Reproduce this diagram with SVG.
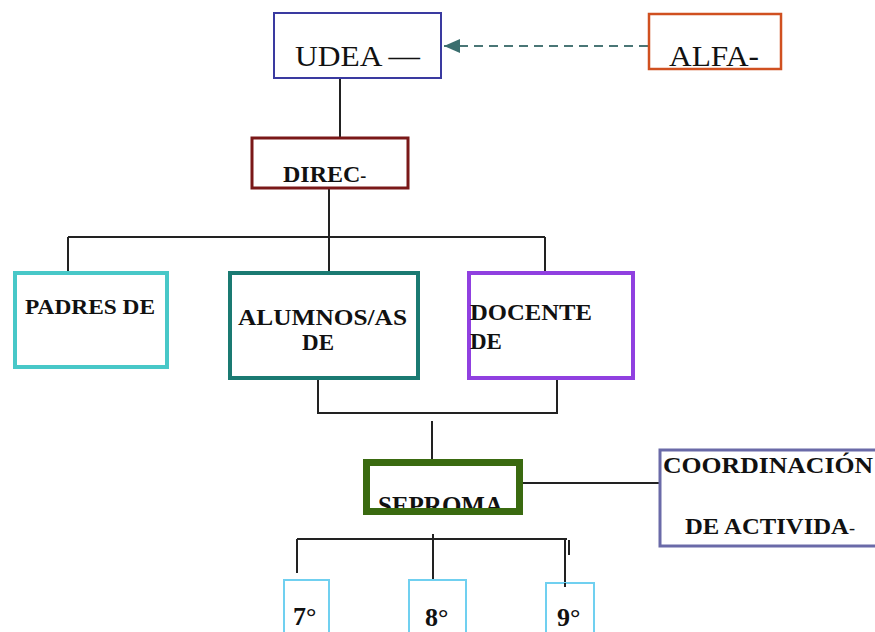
<svg xmlns="http://www.w3.org/2000/svg" width="875" height="632" viewBox="0 0 875 632">
<style>
.t{font-family:"Liberation Serif","Times New Roman","DejaVu Serif",serif;fill:#111}
.b{font-weight:bold}
.box{fill:#fff}
.ln{stroke:#222;stroke-width:2;fill:none}
</style>
<defs>
<marker id="ah" markerWidth="16" markerHeight="14" refX="16" refY="7" orient="auto" markerUnits="userSpaceOnUse">
<path d="M0,0 L16,7 L0,14 Z" fill="#3a6e6e"/>
</marker>
</defs>
<rect width="875" height="632" fill="#fff"/>
<g id="connectors">
<line x1="648" y1="46" x2="444" y2="46" stroke="#4a7676" stroke-width="2" stroke-dasharray="9,6" marker-end="url(#ah)"/>
<path class="ln" d="M340 79 V137"/>
<path class="ln" d="M329 188 V237 M68 237 H545 M68 237 V271 M329 237 V271 M545 237 V271"/>
<path class="ln" d="M318 379 V413 H557 V379"/>
<path class="ln" d="M432 421 V460"/>
<path class="ln" d="M523 483 H659"/>
<path class="ln" d="M297 539 H567 M297 539 V573 M433 534 V579 M565 539 V587 M569 540 V555"/>
</g>
<g id="udea">
<rect class="box" x="274" y="13" width="167" height="65" stroke="#3a3aa0" stroke-width="2"/>
<text class="t" x="295" y="66" font-size="30" textLength="125" lengthAdjust="spacingAndGlyphs">UDEA —</text>
</g>
<g id="alfa">
<rect class="box" x="649" y="14" width="132" height="55" stroke="#d05020" stroke-width="2.5"/>
<text class="t" x="669" y="66" font-size="30" textLength="90" lengthAdjust="spacingAndGlyphs">ALFA-</text>
</g>
<g id="direc">
<rect class="box" x="252" y="138" width="156" height="50" stroke="#7a1818" stroke-width="3"/>
<text class="t b" x="283" y="182" font-size="24">DIREC<tspan font-size="18">-</tspan></text>
</g>
<g id="padres">
<rect class="box" x="15" y="273" width="152" height="94" stroke="#48c8c8" stroke-width="4"/>
<text class="t b" x="25" y="314" font-size="22" textLength="130" lengthAdjust="spacingAndGlyphs">PADRES DE</text>
</g>
<g id="alumnos">
<rect class="box" x="230" y="273" width="188" height="105" stroke="#1a7a72" stroke-width="4"/>
<text class="t b" x="238" y="325" font-size="23" textLength="169" lengthAdjust="spacingAndGlyphs">ALUMNOS/AS</text>
<text class="t b" x="318" y="350" font-size="23" text-anchor="middle">DE</text>
</g>
<g id="docente">
<rect class="box" x="469" y="273" width="164" height="105" stroke="#9040e0" stroke-width="4"/>
<text class="t b" x="470" y="320" font-size="23" textLength="122" lengthAdjust="spacingAndGlyphs">DOCENTE</text>
<text class="t b" x="470" y="349" font-size="23">DE</text>
</g>
<g id="seproma">
<rect class="box" x="366.5" y="462.5" width="153" height="49"/>
<text class="t b" x="378" y="514" font-size="25" textLength="125" lengthAdjust="spacingAndGlyphs">SEPROMA</text>
<rect x="366.5" y="462.5" width="153" height="49" fill="none" stroke="#3a6a10" stroke-width="7"/>
</g>
<g id="coordinacion">
<rect class="box" x="660" y="450" width="230" height="96" stroke="#6a6aa8" stroke-width="3"/>
<text class="t b" x="663" y="473" font-size="23" textLength="210" lengthAdjust="spacingAndGlyphs">COORDINACIÓN</text>
<text class="t b" x="685" y="534" font-size="23" textLength="170" lengthAdjust="spacingAndGlyphs">DE ACTIVIDA<tspan font-size="17">-</tspan></text>
</g>
<g id="g7">
<rect class="box" x="284" y="580" width="45" height="60" stroke="#70d0f0" stroke-width="2"/>
<text class="t b" x="293" y="625" font-size="26">7°</text>
</g>
<g id="g8">
<rect class="box" x="409" y="580" width="57" height="60" stroke="#70d0f0" stroke-width="2"/>
<text class="t b" x="425" y="626" font-size="26">8°</text>
</g>
<g id="g9">
<rect class="box" x="546" y="583" width="48" height="60" stroke="#70d0f0" stroke-width="2"/>
<line x1="565" y1="583" x2="565" y2="587" class="ln"/>
<text class="t b" x="557" y="626" font-size="26">9°</text>
</g>
</svg>
